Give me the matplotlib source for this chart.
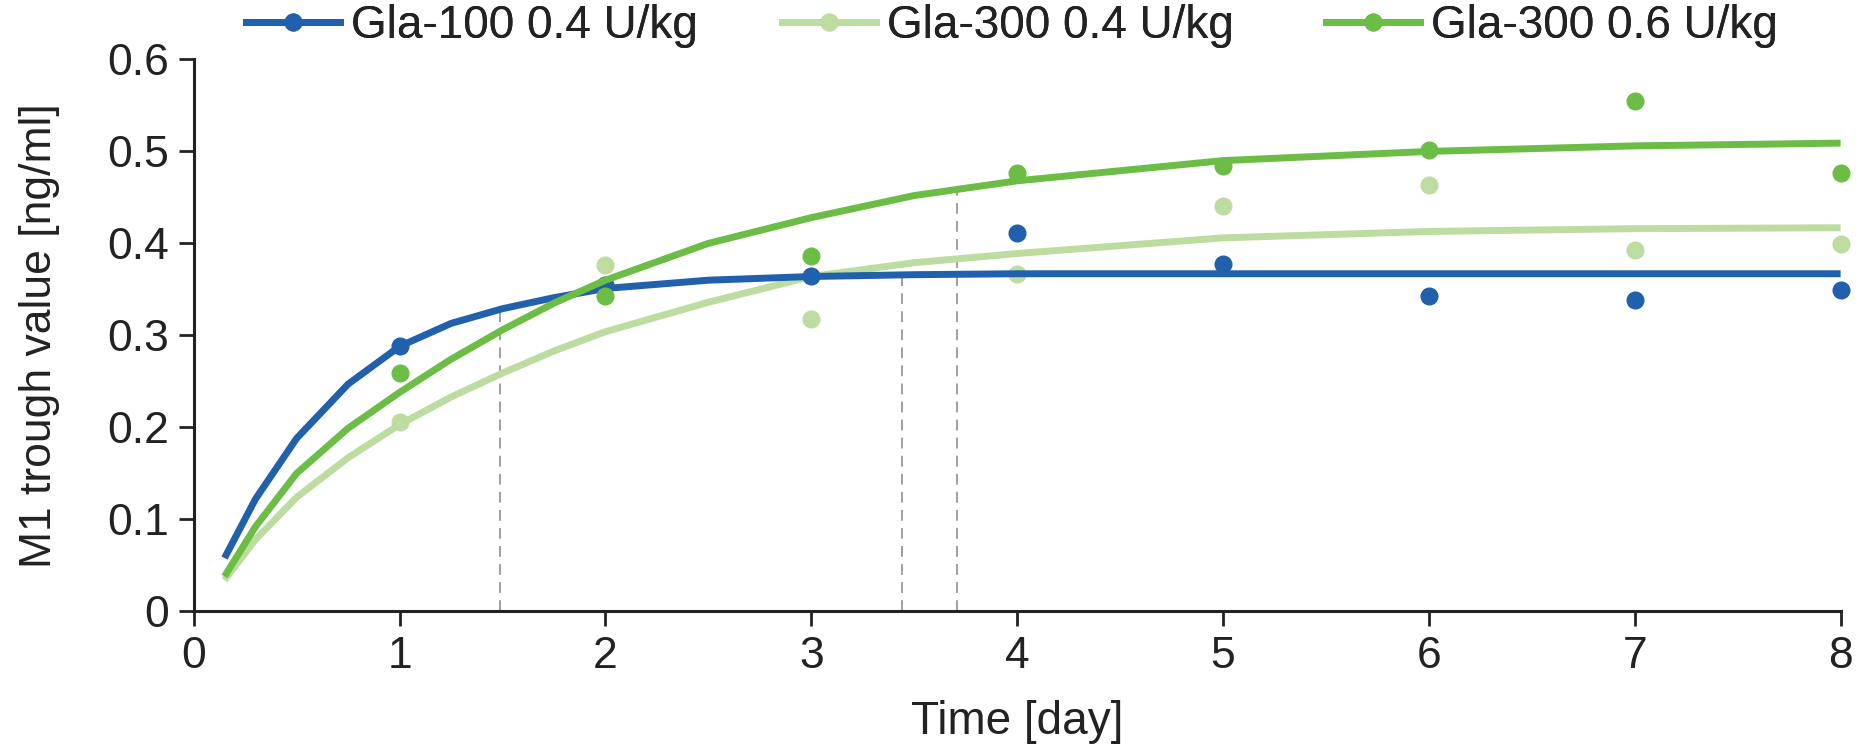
import matplotlib.pyplot as plt

# observed trough values per day
days = [1, 2, 3, 4, 5, 6, 7, 8]
gla100_04_obs = [0.288, 0.355, 0.365, 0.411, 0.378, 0.343, 0.338, 0.349]
gla300_04_obs = [0.206, 0.376, 0.318, 0.367, 0.441, 0.464, 0.393, 0.399]
gla300_06_obs = [0.259, 0.343, 0.386, 0.476, 0.484, 0.501, 0.555, 0.476]

# model curves
curve_t = [0.15, 0.3, 0.5, 0.75, 1.0, 1.25, 1.5, 1.75, 2.0, 2.5, 3.0, 3.5, 4.0, 5.0, 6.0, 7.0, 8.0]
gla100_04_fit = [0.058, 0.122, 0.188, 0.247, 0.288, 0.313, 0.329, 0.341, 0.351, 0.360, 0.364, 0.366, 0.367, 0.367, 0.367, 0.367, 0.367]
gla300_04_fit = [0.034, 0.078, 0.124, 0.167, 0.203, 0.233, 0.259, 0.283, 0.304, 0.336, 0.364, 0.379, 0.389, 0.406, 0.413, 0.416, 0.417]
gla300_06_fit = [0.038, 0.092, 0.150, 0.199, 0.238, 0.274, 0.306, 0.335, 0.360, 0.400, 0.428, 0.452, 0.468, 0.490, 0.500, 0.506, 0.509]

# time to steady state markers (time, curve level)
steady_t = [1.49, 3.44, 3.71]
steady_y = [0.329, 0.381, 0.462]

labels = ["Gla-100 0.4 U/kg", "Gla-300 0.4 U/kg", "Gla-300 0.6 U/kg"]
colors = ["#2160ad", "#bddc9f", "#6cbd45"]

plt.rcParams["font.family"] = ["Liberation Sans", "DejaVu Sans"]
FS = 32
INK = "#222222"

fig = plt.figure(figsize=(18.62, 7.52), dpi=100)
ax = fig.add_axes([0.104, 0.187, 0.8845, 0.734])

for t, y in zip(steady_t, steady_y):
    ax.plot([t, t], [0, y], color="#999999", lw=1.3, ls=(0, (6, 4)), zorder=1)

series = [
    (gla100_04_obs, gla100_04_fit, 3),
    (gla300_04_obs, gla300_04_fit, 2),
    (gla300_06_obs, gla300_06_fit, 4),
]
handles = []
for (obs, fit, z), lab, col in zip(series, labels, colors):
    ax.plot(days, obs, "o", color=col, ms=12, clip_on=False, zorder=z)
    ax.plot(curve_t, fit, "-", color=col, lw=5, solid_capstyle="butt",
            solid_joinstyle="round", clip_on=False, zorder=z)
    (h,) = ax.plot([], [], "-o", color=col, lw=5, ms=12, label=lab)
    handles.append(h)

ax.set_xlim(0, 8)
ax.set_ylim(0, 0.6)
ax.set_xticks(range(9))
ax.set_yticks([0, 0.1, 0.2, 0.3, 0.4, 0.5, 0.6])
ax.set_yticklabels(["0", "0.1", "0.2", "0.3", "0.4", "0.5", "0.6"])

for side in ["top", "right"]:
    ax.spines[side].set_visible(False)
for side in ["left", "bottom"]:
    ax.spines[side].set_linewidth(2.2)
    ax.spines[side].set_color(INK)

ax.tick_params(axis="both", direction="out", length=11, width=2,
               color=INK, labelsize=FS, pad=7, labelcolor=INK)

ax.set_xlabel("Time [day]", fontsize=33, color=INK, labelpad=16)
ax.set_ylabel("M1 trough value [ng/ml]", fontsize=FS, color=INK, labelpad=34)

# one legend entry per column, placed along the top edge
legend_x = [0.132, 0.420, 0.712]
for h, x in zip(handles, legend_x):
    leg = fig.legend(handles=[h], loc="center left", bbox_to_anchor=(x, 0.965),
                     frameon=False, fontsize=33, handlelength=2.05,
                     handletextpad=0.25, borderpad=0, borderaxespad=0,
                     labelcolor=INK)
    fig.add_artist(leg)

fig.savefig("out.png", dpi=100)
